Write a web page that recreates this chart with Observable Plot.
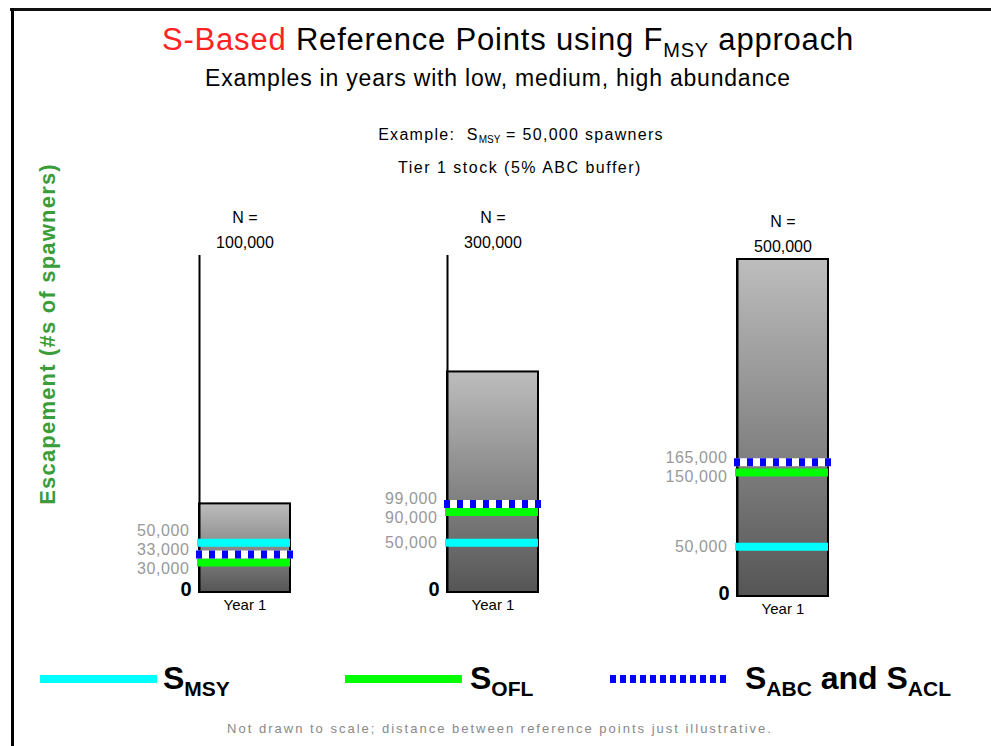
<!DOCTYPE html>
<html>
<head>
<meta charset="utf-8">
<script src="https://cdn.jsdelivr.net/npm/d3@7"></script>
<script src="https://cdn.jsdelivr.net/npm/@observablehq/plot@0.6"></script>
<style>
  html, body { margin: 0; padding: 0; background: #fff; }
  body { font-family: "Liberation Sans", Arial, sans-serif; }
  #page { position: relative; width: 991px; height: 746px; overflow: hidden; background: #fff; }
  .abs { position: absolute; white-space: nowrap; }
  .center { transform: translateX(-50%); }
  .panel { position: absolute; }
  .panel svg { overflow: visible; background: transparent; }
  .leg-text { font-weight: bold; font-size: 32px; line-height: 32px; color: #000; }
  .leg-text sub { font-size: 21px; vertical-align: -7px; line-height: 0; }
  .lbl text { letter-spacing: 0.6px; }
</style>
</head>
<body>
<div id="page">
  <div class="abs" style="left:10px; top:8px; width:990px; height:0; border-top:3px solid #111;"></div>
  <div class="abs" style="left:11px; top:8px; width:0; height:740px; border-left:3px solid #000;"></div>

  <div class="abs center" style="left:508px; top:24px; font-size:31px; line-height:31px; letter-spacing:0.8px; color:#000;">
    <span style="color:#ff2222;">S-Based</span> Reference Points using F<sub style="font-size:20px; vertical-align:-7px; line-height:0;">MSY</sub> approach
  </div>
  <div class="abs center" style="left:498px; top:67px; font-size:23px; line-height:23px; letter-spacing:0.8px; color:#000;">Examples in years with low, medium, high abundance</div>
  <div class="abs center" style="left:521px; top:127px; font-size:16px; line-height:16px; letter-spacing:1.3px; color:#000;">Example:&nbsp; S<sub style="font-size:10px; vertical-align:-3px; line-height:0; letter-spacing:0;">MSY</sub> = 50,000 spawners</div>
  <div class="abs center" style="left:520px; top:160px; font-size:16px; line-height:16px; letter-spacing:1.5px; color:#000;">Tier 1 stock (5% ABC buffer)</div>

  <div class="abs" style="left:48px; top:334px; transform: translate(-50%,-50%) rotate(-90deg); font-size:22px; letter-spacing:1.2px; font-weight:bold; color:#3a9d3a;">Escapement (#s of spawners)</div>

  <div id="panels"></div>

  <div class="abs" style="left:40px; top:675px; width:117px; height:8px; background:#00ffff;"></div>
  <div class="abs leg-text" style="left:163px; top:662px;">S<sub>MSY</sub></div>
  <div class="abs" style="left:345px; top:675px; width:117px; height:8px; background:#00ff00;"></div>
  <div class="abs leg-text" style="left:470px; top:662px;">S<sub>OFL</sub></div>
  <div class="abs" style="left:610px; top:675px; width:117px; height:8px; background: repeating-linear-gradient(to right, #0000ff 0 6px, #fff 6px 10px);"></div>
  <div class="abs leg-text" style="left:745px; top:662px;">S<sub>ABC</sub> and S<sub>ACL</sub></div>

  <div class="abs center" style="left:500px; top:722px; font-size:13px; line-height:14px; color:#888; letter-spacing:2px;">Not drawn to scale; distance between reference points just illustrative.</div>
</div>

<script>
// ---- data ----
const panelNames = ["low", "medium", "high"];
const abundance = [100000, 300000, 500000];   // N
const sMSY = [50000, 50000, 50000];
const sOFL = [30000, 90000, 150000];
const sABC = [33000, 99000, 165000];
const yearLabels = ["Year 1", "Year 1", "Year 1"];
const yMax = 500000;

// ---- layout ----
const fmt = d3.format(",");
const mt = 50, mb = 30, ml = 80, mr = 10, plotH = 337, barW = 91;
const panelPos = [{left: 119, top: 205}, {left: 367, top: 205}, {left: 657, top: 209}];
const yOpts = {type: "pow", exponent: 0.83, domain: [0, yMax]};
const yPix = Plot.scale({y: {...yOpts, range: [plotH, 0]}});

// spread illustrative positions apart so overlapping levels stay readable,
// keeping them at least `floor` pixels above the zero baseline
function dodge(values, gap, floor) {
  const items = values.map((v, i) => ({i, p: yPix.apply(v)}));
  items.sort((a, b) => a.p - b.p);
  const maxP = yPix.apply(0) - floor;
  for (let k = 0; k < 300; k++) {
    for (let j = 0; j < items.length - 1; j++) {
      const d = items[j + 1].p - items[j].p;
      if (d < gap) {
        const s = (gap - d) / 2;
        items[j].p -= s; items[j + 1].p += s;
      }
    }
    const last = items[items.length - 1];
    if (last.p > maxP) last.p = maxP;
  }
  const out = new Array(values.length);
  items.forEach(o => out[o.i] = yPix.invert(o.p));
  return out;
}

const host = document.getElementById("panels");
panelNames.forEach((name, i) => {
  const refs = [
    {kind: "MSY", value: sMSY[i]},
    {kind: "OFL", value: sOFL[i]},
    {kind: "ABC", value: sABC[i]}
  ];
  const lineY = dodge(refs.map(r => r.value), 8, 20);
  const labelY = dodge(refs.map(r => r.value), 19, 24);
  refs.forEach((r, k) => { r.lineY = lineY[k]; r.labelY = labelY[k]; });
  const byKind = k => refs.filter(r => r.kind === k);

  const svg = Plot.plot({
    width: ml + barW + mr,
    height: mt + plotH + mb,
    marginTop: mt, marginBottom: mb, marginLeft: ml, marginRight: mr,
    style: {fontFamily: "'Liberation Sans', Arial, sans-serif", fontSize: "14px", background: "transparent", overflow: "visible"},
    x: {domain: [0, 1], axis: null},
    y: {...yOpts, axis: null},
    marks: [
      Plot.rectY([abundance[i]], {x1: 0, x2: 1, y1: 0, y2: d => d, fill: `url(#grad${i})`, stroke: "#000", strokeWidth: 2}),
      Plot.ruleX([0], {stroke: "#000", strokeWidth: 2}),
      Plot.ruleY(byKind("MSY"), {y: "lineY", stroke: "#00ffff", strokeWidth: 8, insetLeft: -2, insetRight: 0}),
      Plot.ruleY(byKind("OFL"), {y: "lineY", stroke: "#00ff00", strokeWidth: 8, insetLeft: -2, insetRight: 0}),
      Plot.ruleY(byKind("ABC"), {y: "lineY", stroke: "#fff", strokeWidth: 8, insetLeft: -3, insetRight: -5}),
      Plot.ruleY(byKind("ABC"), {y: "lineY", stroke: "#0000ff", strokeWidth: 8, strokeDasharray: "6,7", insetLeft: -3, insetRight: -5}),
      Plot.text(refs, {x: 0, y: "labelY", text: d => fmt(d.value), textAnchor: "end", dx: -10, fill: "#999", fontSize: 16, className: "lbl"}),
      Plot.text([0], {x: 0, y: d => d, text: d => String(d), textAnchor: "end", dx: -8, dy: -3, fontSize: 20, fontWeight: "bold", fill: "#000"}),
      Plot.text([abundance[i]], {frameAnchor: "top", text: d => `N =\n${fmt(d)}`, lineAnchor: "bottom", lineHeight: 1.55, dy: -8, fontSize: 16, fill: "#000"}),
      Plot.text([yearLabels[i]], {frameAnchor: "bottom", text: d => d, dy: 17, fontSize: 15, fill: "#000"})
    ]
  });
  const defs = d3.select(svg).insert("defs", ":first-child");
  const g = defs.append("linearGradient").attr("id", `grad${i}`).attr("x1", 0).attr("y1", 0).attr("x2", 0).attr("y2", 1);
  g.append("stop").attr("offset", "0%").attr("stop-color", "#bdbdbd");
  g.append("stop").attr("offset", "100%").attr("stop-color", "#555555");

  const wrap = document.createElement("div");
  wrap.className = "panel";
  wrap.style.left = panelPos[i].left + "px";
  wrap.style.top = panelPos[i].top + "px";
  wrap.appendChild(svg);
  host.appendChild(wrap);
});
</script>
</body>
</html>
